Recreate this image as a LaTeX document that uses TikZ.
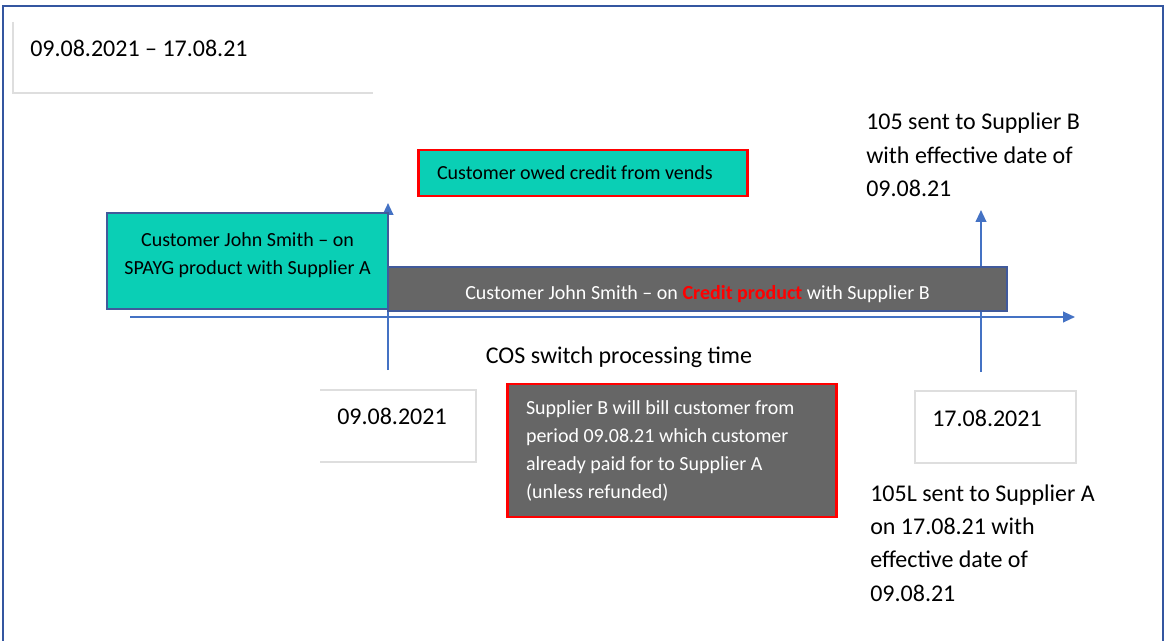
\documentclass[tikz,border=0pt]{standalone}
\usepackage{fontspec}
\setmainfont{Carlito}
\usepackage{xcolor}
\usetikzlibrary{positioning,calc,arrows.meta}

\definecolor{tealfill}{RGB}{10,207,181}
\definecolor{darkgrey}{RGB}{102,102,102}
\definecolor{lineblue}{RGB}{68,114,196}
\definecolor{frameblue}{RGB}{52,86,160}
\definecolor{edgeblue}{RGB}{65,90,155}
\definecolor{faint}{RGB}{222,222,222}
\newcommand{\bigtext}{\fontsize{18}{25}\selectfont}
\newcommand{\boxtext}{\fontsize{15}{21}\selectfont}

\tikzset{
    timeline/.style={draw=lineblue, line width=1.5pt, -{Triangle[length=9pt,width=8pt]}},
    tealbox/.style={draw=edgeblue, fill=tealfill, line width=1.5pt, align=center, font=\boxtext, inner sep=0pt},
    greybox/.style={draw=edgeblue, fill=darkgrey, line width=1.5pt, text=white, font=\boxtext, inner sep=0pt},
    notebox/.style={draw=red, line width=2.2pt, align=flush left, font=\boxtext, inner xsep=14pt, inner ysep=0pt},
    plain/.style={align=left, font=\bigtext, inner sep=0pt},
    faintline/.style={draw=faint, line width=0.8pt}
}

\begin{document}
\begin{tikzpicture}[x=0.75pt, y=-0.75pt]
    \useasboundingbox (0,0) rectangle (1169,641);
    \draw[frameblue, line width=2.2pt] (3,641) -- (3,6) -- (1163,6) -- (1163,641);

    % time axis and the two event markers
    \coordinate (axisstart) at (130,317);
    \coordinate (axisend) at (1075,317);
    \coordinate (switchlow) at (388,370);
    \coordinate (switchtop) at (388,203);
    \coordinate (readlow) at (981,372);
    \coordinate (readtop) at (981,210);
    \draw[timeline] (axisstart) -- (axisend);
    \draw[timeline] (switchlow) -- (switchtop);
    \draw[timeline] (readlow) -- (readtop);

    % period heading
    \node[plain, anchor=west] (period) at (30,48) {09.08.2021 -- 17.08.21};
    \draw[faintline] (13,22) |- (373,93);

    % products
    \node[tealbox, minimum width=210.75pt, minimum height=72pt, text depth=10.5pt] (spayg) at (247.5,261)
        {Customer John Smith -- on\\SPAYG product with Supplier A};
    \node[greybox, minimum width=464.25pt, minimum height=33pt, text height=17.5pt] (credit) at (697.5,289)
        {Customer John Smith -- on \textcolor{red}{\textbf{Credit product}} with Supplier B};
    \node[notebox, fill=tealfill, text width=219pt, minimum height=34.5pt] (owed) at (583,173)
        {Customer owed credit from vends};

    \node[plain] (cos) at (619,357) {COS switch processing time};

    % dates
    \node[plain, anchor=west] (startdate) at (337,416) {09.08.2021};
    \draw[faintline] (320,390) -| (476,462) -- (320,462);
    \node[plain, anchor=west] (enddate) at (932,418) {17.08.2021};
    \draw[faintline] (915,391) rectangle (1076,463);

    \node[notebox, fill=darkgrey, text=white, text width=219pt, minimum height=99.75pt] (bill) at (672,450.5)
        {Supplier B will bill customer from\\period 09.08.21 which customer\\already paid for to Supplier A\\(unless refunded)};

    % flows
    \node[plain, anchor=west] (sentb) at (866,155) {105 sent to Supplier B\\with effective date of\\09.08.21};
    \node[plain, anchor=west] (sentl) at (870,543) {105L sent to Supplier A\\on 17.08.21 with\\effective date of\\09.08.21};
\end{tikzpicture}
\end{document}
